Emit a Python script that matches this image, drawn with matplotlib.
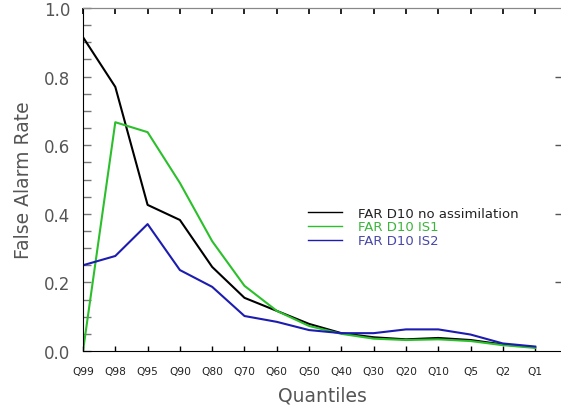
import matplotlib
matplotlib.use('Agg')
import matplotlib.pyplot as plt
from matplotlib.ticker import MultipleLocator, FormatStrFormatter

# datos
quantiles = ['Q99', 'Q98', 'Q95', 'Q90', 'Q80', 'Q70', 'Q60', 'Q50',
             'Q40', 'Q30', 'Q20', 'Q10', 'Q5', 'Q2', 'Q1']
far_no_assim = [0.915, 0.77, 0.426, 0.382, 0.245, 0.155, 0.117, 0.079,
                0.052, 0.040, 0.034, 0.038, 0.032, 0.019, 0.011]
far_is1 = [0.0, 0.667, 0.638, 0.49, 0.32, 0.19, 0.117, 0.073,
           0.050, 0.036, 0.032, 0.034, 0.029, 0.017, 0.009]
far_is2 = [0.25, 0.277, 0.37, 0.236, 0.187, 0.102, 0.085, 0.061,
           0.052, 0.052, 0.063, 0.063, 0.048, 0.022, 0.013]

x = list(range(len(quantiles)))

fig = plt.figure(figsize=(5.61, 4.06), dpi=100)
ax = fig.add_axes([83/561, 1 - 352/406, (561 - 83)/561, (352 - 9)/406])

ax.plot(x, far_no_assim, color='black', lw=1.5, label='FAR D10 no assimilation')
ax.plot(x, far_is1, color='#2cbf2c', lw=1.5, label='FAR D10 IS1')
ax.plot(x, far_is2, color='#1c1cb0', lw=1.5, label='FAR D10 IS2')

ax.set_xlim(0, 14.8)
ax.set_ylim(0, 1.0)

ax.set_xticks(x)
ax.set_xticklabels(quantiles, fontsize=7.7, color='#222222')
ax.yaxis.set_major_locator(MultipleLocator(0.2))
ax.yaxis.set_minor_locator(MultipleLocator(0.05))
ax.yaxis.set_major_formatter(FormatStrFormatter('%.1f'))

ax.tick_params(axis='x', direction='in', length=3.5, width=1, pad=11)
ax.tick_params(axis='y', which='both', direction='in', length=6, width=1,
               color='#777777', pad=9, labelsize=12, labelcolor='#555555')

ax.spines['top'].set_color('#888888')
ax.spines['right'].set_visible(False)

# ejes secundarios para las marcas de arriba y derecha
top = ax.secondary_xaxis('top')
top.set_xticks(x)
top.set_xticklabels([])
top.tick_params(direction='in', length=4, width=1.2)
top.spines['top'].set_color('#888888')

right = ax.secondary_yaxis('right')
right.set_yticks([0.2, 0.4, 0.6, 0.8])
right.set_yticklabels([])
right.tick_params(direction='in', length=4, width=1, color='#555555')
right.spines['right'].set_visible(False)

ax.set_xlabel('Quantiles', fontsize=13.5, color='#555555', labelpad=7)
ax.set_ylabel('False Alarm Rate', fontsize=13.5, color='#555555', labelpad=8)

leg = ax.legend(loc='upper left', bbox_to_anchor=(0.445, 0.455), frameon=False,
                fontsize=9.5, handlelength=2.6, handletextpad=1.2,
                labelspacing=0.05)
for txt, c in zip(leg.get_texts(), ['#222222', '#3cb43c', '#4848a8']):
    txt.set_color(c)
for ln in leg.get_lines():
    ln.set_linewidth(1.0)

plt.savefig('out.png', dpi=100)
